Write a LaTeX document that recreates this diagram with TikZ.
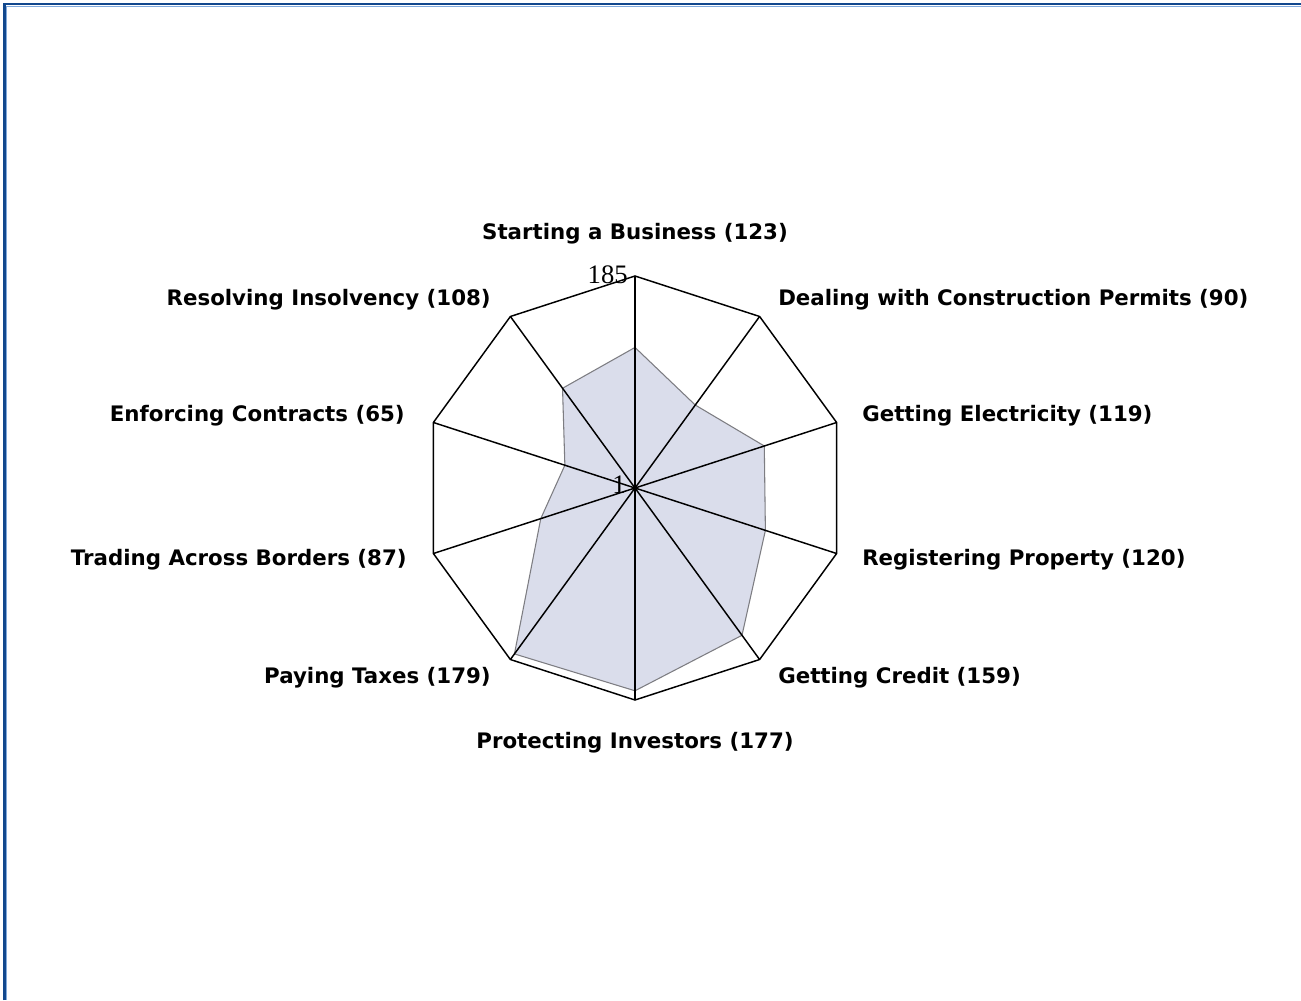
\documentclass[tikz,border=0pt]{standalone}
\usepackage{fontspec}
\newfontfamily\labelfont{DejaVu Sans}
\newfontfamily\tickfont{Liberation Serif}
\usetikzlibrary{positioning, math, calc}
\definecolor{frameBlue}{RGB}{18,72,142}
\definecolor{frameLight}{RGB}{130,170,220}
\definecolor{areaFill}{RGB}{218,221,235}
\definecolor{areaLine}{RGB}{125,125,130}

\begin{document}
\begin{tikzpicture}[x=0.75pt, y=0.75pt]
			\tikzmath{
				\R           		 = 212;       %outer radius
				\s           		 = 212/184;   %px per rank
			}
			\tikzstyle{Label} = [
				font=\labelfont\bfseries\fontsize{16}{18}\selectfont,
				inner sep=0pt
			]
			\tikzstyle{Tick} = [
				font=\tickfont\fontsize{20}{22}\selectfont,
				inner sep=0pt
			]
			\tikzstyle{Web} = [draw=black, line width=1.1pt]
			\tikzstyle{Area} = [fill=areaFill, draw=areaLine, line width=0.8pt, line join=round]

			\useasboundingbox (-635,-512) rectangle (666,488);
			% window frame
			\draw[frameBlue, line width=1.8pt] (-630.5,-512) |- (666,484);
			\draw[frameLight, line width=1pt] (-628.3,-512) |- (666,481.8);

			\coordinate (c) at (0,0);
			\coordinate (o0) at (90:\R);
			\coordinate (o1) at (54:\R);
			\coordinate (o2) at (18:\R);
			\coordinate (o3) at (-18:\R);
			\coordinate (o4) at (-54:\R);
			\coordinate (o5) at (-90:\R);
			\coordinate (o6) at (-126:\R);
			\coordinate (o7) at (-162:\R);
			\coordinate (o8) at (162:\R);
			\coordinate (o9) at (126:\R);

			\coordinate (d0) at (90:{(123-1)*\s});
			\coordinate (d1) at (54:{(90-1)*\s});
			\coordinate (d2) at (18:{(119-1)*\s});
			\coordinate (d3) at (-18:{(120-1)*\s});
			\coordinate (d4) at (-54:{(159-1)*\s});
			\coordinate (d5) at (-90:{(177-1)*\s});
			\coordinate (d6) at (-126:{(179-1)*\s});
			\coordinate (d7) at (-162:{(87-1)*\s});
			\coordinate (d8) at (162:{(65-1)*\s});
			\coordinate (d9) at (126:{(108-1)*\s});

			\draw[Area] (d0) -- (d1) -- (d2) -- (d3) -- (d4) -- (d5) -- (d6) -- (d7) -- (d8) -- (d9) -- cycle;

			\draw[Web] (o0) -- (o1) -- (o2) -- (o3) -- (o4) -- (o5) -- (o6) -- (o7) -- (o8) -- (o9) -- cycle;
			\draw[Web] (c) -- (o0);
			\draw[Web] (c) -- (o1);
			\draw[Web] (c) -- (o2);
			\draw[Web] (c) -- (o3);
			\draw[Web] (c) -- (o4);
			\draw[Web] (c) -- (o5);
			\draw[Web] (c) -- (o6);
			\draw[Web] (c) -- (o7);
			\draw[Web] (c) -- (o8);
			\draw[Web] (c) -- (o9);

			\node[Tick, anchor=base east] (tickMax) at ($(o0) + (-7,-7)$) {185};
			\node[Tick, anchor=base east] (tickMin) at ($(c) + (-9,-5)$) {1};

			\node[Label, anchor=base] (lblStart) at ($(o0) + (0,37)$) {Starting a Business (123)};
			\node[Label, anchor=base west] (lblPermits) at ($(o1) + (18.4,11)$) {Dealing with Construction Permits (90)};
			\node[Label, anchor=base west] (lblPower) at ($(o2) + (25.4,1)$) {Getting Electricity (119)};
			\node[Label, anchor=base west] (lblProperty) at ($(o3) + (25.4,-12)$) {Registering Property (120)};
			\node[Label, anchor=base west] (lblCredit) at ($(o4) + (18.4,-24)$) {Getting Credit (159)};
			\node[Label, anchor=base] (lblInvestors) at ($(o5) + (0,-48)$) {Protecting Investors (177)};
			\node[Label, anchor=base east] (lblTaxes) at ($(o6) + (-19.4,-24)$) {Paying Taxes (179)};
			\node[Label, anchor=base east] (lblBorders) at ($(o7) + (-26.4,-12)$) {Trading Across Borders (87)};
			\node[Label, anchor=base east] (lblContracts) at ($(o8) + (-28.4,1)$) {Enforcing Contracts (65)};
			\node[Label, anchor=base east] (lblInsolvency) at ($(o9) + (-19.4,11)$) {Resolving Insolvency (108)};
\end{tikzpicture}
\end{document}
